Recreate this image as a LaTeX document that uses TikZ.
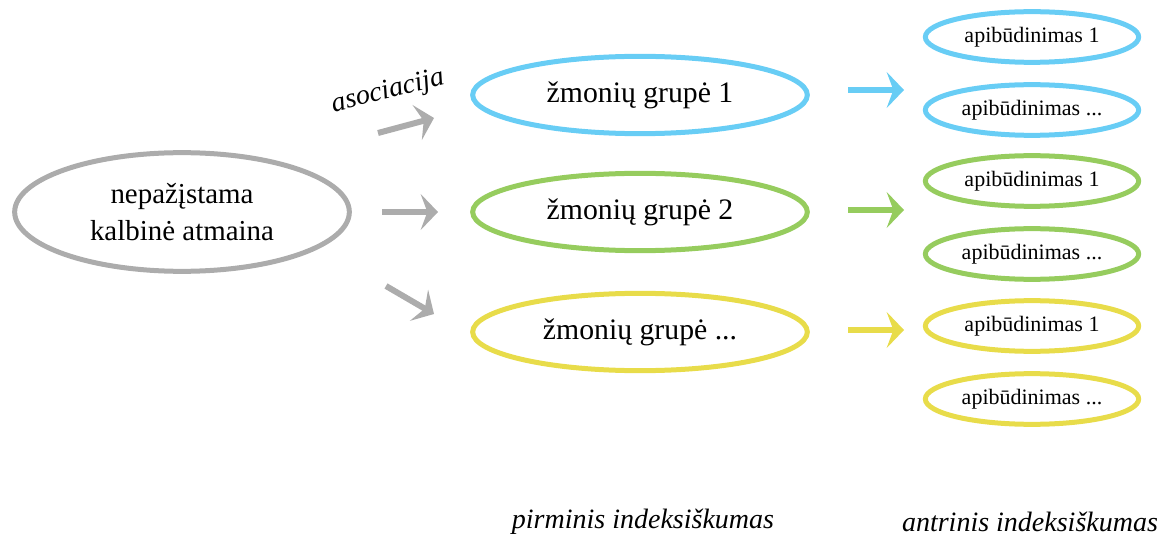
\documentclass[tikz,border=0pt]{standalone}
\usepackage{fontspec}
\setmainfont{Liberation Serif}
\usetikzlibrary{arrows.meta}
\usetikzlibrary{shapes.geometric}

\definecolor{cgray}{RGB}{172,172,172}
\definecolor{cblue}{RGB}{104,205,245}
\definecolor{cgreen}{RGB}{150,204,94}
\definecolor{cyellow}{RGB}{232,220,74}

\tikzset{
  oval/.style={draw=#1, ellipse, line width=3.75pt, inner sep=0pt, align=center},
  bigoval/.style={oval=#1, minimum width=251pt, minimum height=58pt, font=\fontsize{22.3}{26}\selectfont},
  smalloval/.style={oval=#1, minimum width=160pt, minimum height=38pt, font=\fontsize{16.5}{20}\selectfont},
  fat/.style={draw=#1, line width=4.5pt, -{Stealth[length=13pt, width=27pt, inset=5pt]}},
  caption/.style={font=\fontsize{21}{25}\selectfont\itshape}
}

\begin{document}
\begin{tikzpicture}[x=0.75pt,y=0.75pt,yscale=-1,xscale=1]
\useasboundingbox (0,0) rectangle (1166,538);

%Shape: Ellipse [id:source]
\node [oval=cgray, minimum width=251pt, minimum height=89pt, font=\fontsize{21.7}{28}\selectfont] (src) at (182,212) {nepažįstama\\kalbinė atmaina};

%Shape: Ellipse [id:groups]
\node [bigoval=cblue] (grp1) at (640,95) {žmonių grupė 1};
\node [bigoval=cgreen] (grp2) at (640,212) {žmonių grupė 2};
\node [bigoval=cyellow] (grp3) at (640,332) {žmonių grupė ...};

%Shape: Ellipse [id:traits]
\node [smalloval=cblue] (tr1a) at (1032,37) {apibūdinimas 1};
\node [smalloval=cblue] (tr1b) at (1032,110) {apibūdinimas ...};
\node [smalloval=cgreen] (tr2a) at (1032,181) {apibūdinimas 1};
\node [smalloval=cgreen] (tr2b) at (1032,254) {apibūdinimas ...};
\node [smalloval=cyellow] (tr3a) at (1032,326) {apibūdinimas 1};
\node [smalloval=cyellow] (tr3b) at (1032,399) {apibūdinimas ...};

%Straight Lines [id:arrows]
\coordinate (a1s) at (378,133);
\coordinate (a1e) at (434,118);
\coordinate (a2s) at (382,212);
\coordinate (a2e) at (438,212);
\coordinate (a3s) at (386,286);
\coordinate (a3e) at (434,314);
\draw [fat=cgray] (a1s) -- (a1e);
\draw [fat=cgray] (a2s) -- (a2e);
\draw [fat=cgray] (a3s) -- (a3e);

\coordinate (b1s) at (848,90);
\coordinate (b1e) at (904,90);
\coordinate (b2s) at (848,210);
\coordinate (b2e) at (904,210);
\coordinate (b3s) at (848,330);
\coordinate (b3e) at (904,330);
\draw [fat=cblue] (b1s) -- (b1e);
\draw [fat=cgreen] (b2s) -- (b2e);
\draw [fat=cyellow] (b3s) -- (b3e);

% Text Node
\node [caption, rotate=14] (assoc) at (388,92) {asociacija};
% Text Node
\node [caption] (prim) at (643,522) {pirminis indeksiškumas};
% Text Node
\node [caption] (sec) at (1030,522) {antrinis indeksiškumas};

\end{tikzpicture}
\end{document}
